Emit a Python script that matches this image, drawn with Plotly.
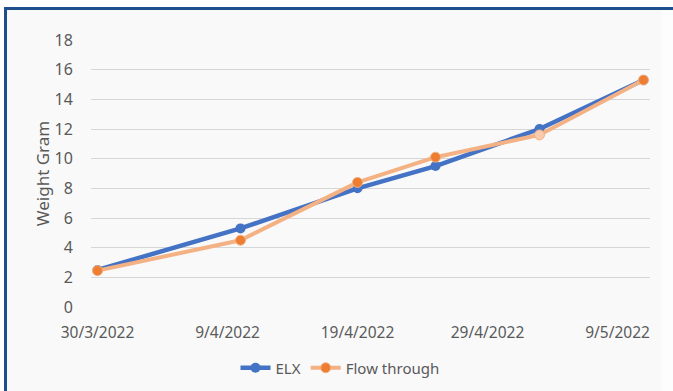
import plotly.graph_objects as go

# ---- data ----
dates = ["2022-03-30", "2022-04-10", "2022-04-19", "2022-04-25", "2022-05-03", "2022-05-11"]
elx = [2.5, 5.3, 8.0, 9.5, 12.0, 15.3]
flow_through = [2.45, 4.5, 8.4, 10.1, 11.6, 15.3]
tick_dates = ["2022-03-30", "2022-04-09", "2022-04-19", "2022-04-29", "2022-05-09"]
tick_labels = ["30/3/2022", "9/4/2022", "19/4/2022", "29/4/2022", "9/5/2022"]
y_ticks = [0, 2, 4, 6, 8, 10, 12, 14, 16, 18]

W, H = 673, 391
L, R, T, B = 91, 650, 40, 306.7  # plot area in pixels

def px(x):
    return (x - L) / (R - L)

def py(y):
    return (B - y) / (B - T)

FONT = "Noto Sans"
GREY = "#595959"

ft_marker_colors = ["#ED7D31", "#ED7D31", "#ED7D31", "#ED7D31", "#F8CBAD", "#ED7D31"]

fig = go.Figure()
fig.add_trace(go.Scatter(
    x=dates, y=elx, name="ELX", mode="lines+markers",
    line=dict(color="#4472C4", width=4.5),
    marker=dict(color="#4472C4", size=10, line=dict(width=0)),
))
fig.add_trace(go.Scatter(
    x=dates, y=flow_through, name="Flow through", mode="lines+markers",
    line=dict(color="#F4B183", width=4),
    marker=dict(color=ft_marker_colors, size=10, line=dict(color="#F4B183", width=1)),
))

shapes = [
    # chart panel with dark blue border
    dict(type="rect", xref="paper", yref="paper", layer="below",
         x0=px(5.5), x1=px(700), y0=py(420), y1=py(8.5),
         fillcolor="#F9F9F9", line=dict(color="#1F4E8C", width=3)),
    dict(type="rect", xref="paper", yref="paper", layer="below",
         x0=px(661), x1=px(680), y0=py(420), y1=py(10.5),
         fillcolor="#FDFDFD", line=dict(width=0)),
]

fig.update_layout(
    width=W, height=H,
    margin=dict(l=L, r=W - R, t=T, b=H - B, pad=0, autoexpand=False),
    paper_bgcolor="white",
    plot_bgcolor="rgba(0,0,0,0)",
    font=dict(family=FONT, size=16, color=GREY),
    shapes=shapes,
    showlegend=True,
    legend=dict(orientation="h", x=340 / W, xref="container", xanchor="center",
                y=(H - 368) / H, yref="container", yanchor="middle",
                font=dict(family=FONT, size=15, color=GREY),
                bgcolor="rgba(0,0,0,0)", itemwidth=30, tracegroupgap=0),
    xaxis=dict(
        type="date",
        range=["2022-03-29 12:00", "2022-05-11 12:00"],
        tickvals=tick_dates, ticktext=tick_labels,
        showgrid=False, zeroline=False, showline=False, automargin=False,
        ticks="outside", ticklen=11, tickcolor="rgba(0,0,0,0)",
        tickfont=dict(family=FONT, size=15.5, color=GREY),
    ),
    yaxis=dict(
        range=[0, 18], tickvals=y_ticks,
        showgrid=True, gridcolor="#D6D6D6", gridwidth=1.2,
        zeroline=False, showline=False,
        ticks="outside", ticklen=14, tickcolor="rgba(0,0,0,0)",
        tickfont=dict(family=FONT, size=16, color=GREY),
        title=dict(text="Weight Gram", font=dict(family=FONT, size=17, color=GREY), standoff=0),
    ),
)

fig.write_html("out.html")
